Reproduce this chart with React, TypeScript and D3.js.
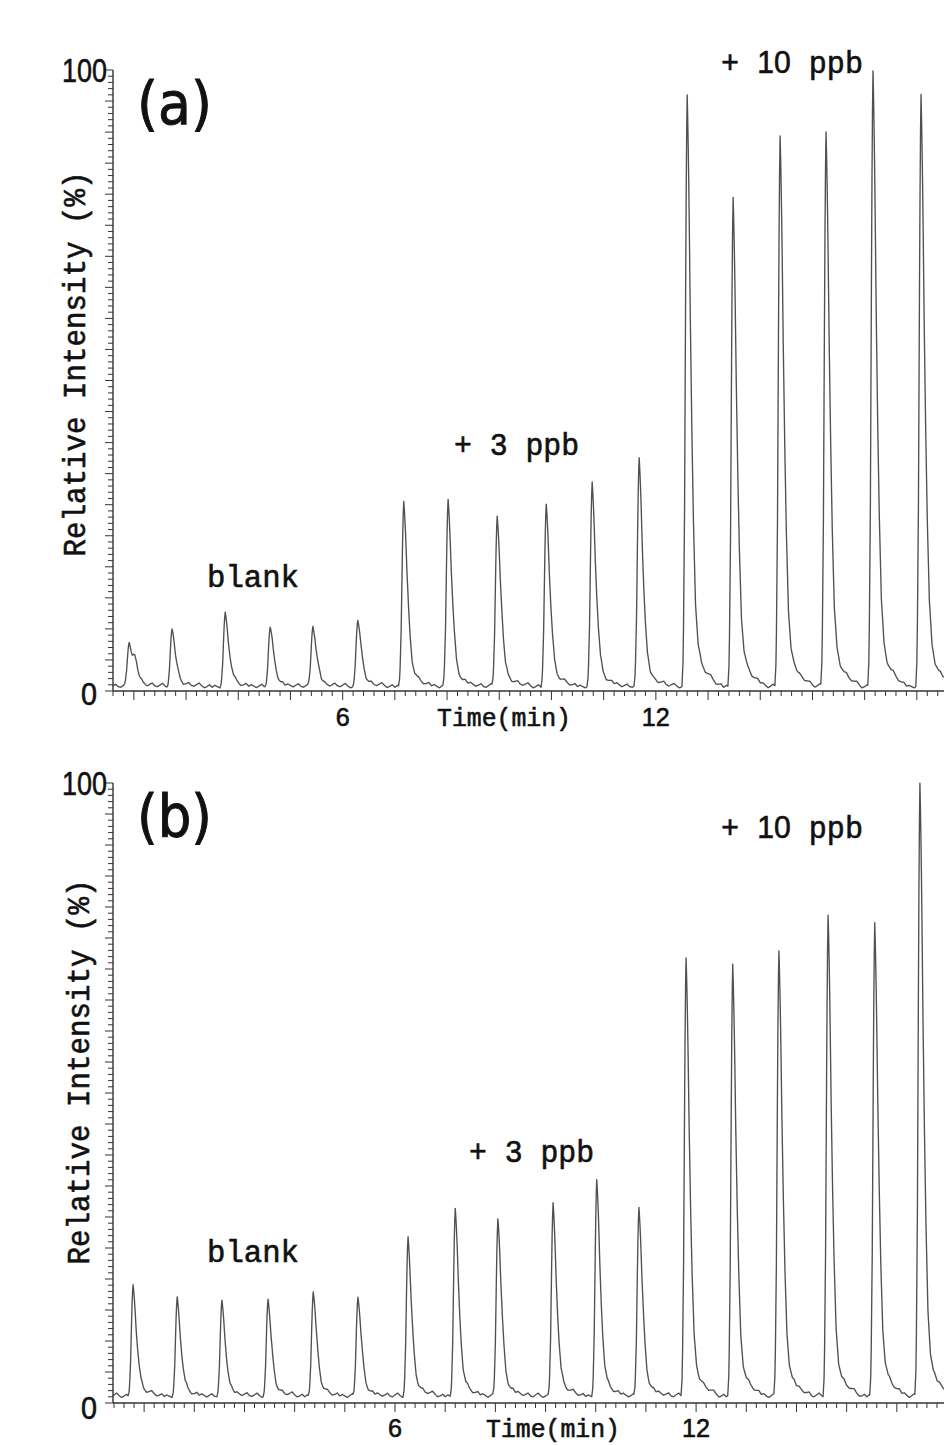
import React from 'react';
import * as d3 from 'd3';

const W = 944;
const H = 1445;

// Normalised peak shape (minutes from apex, fraction of apex)
const profileDt = [-0.1, -0.075, -0.05, -0.03, -0.015, 0, 0.015, 0.035, 0.06, 0.09, 0.12, 0.16, 0.21, 0.27, 0.35, 0.45, 0.56, 0.68];
const profileF = [0, 0.05, 0.3, 0.66, 0.9, 1, 0.94, 0.82, 0.62, 0.43, 0.28, 0.14, 0.07, 0.04, 0.025, 0.015, 0.006, 0];

// Baseline noise (%), every 0.05 min, repeating
const baselineNoise = [0.2, 0.5, 0.3, 0.1, 0.4, 0.7, 0.3, 0.2, 0.5, 0.8, 0.4, 0.1, 0.3, 0.6];

// Panel (a)
const peakTimesA = [1.91, 2.73, 3.75, 4.61, 5.43, 6.29, 7.17, 8.02, 8.96, 9.9, 10.78, 11.68, 12.6, 13.48, 14.38, 15.26, 16.16, 17.08];
const peakTopsA = [7.5, 9.5, 12.0, 9.7, 10.2, 11.1, 30.3, 30.6, 28.0, 29.8, 33.2, 37.0, 95.8, 79.2, 89.0, 89.9, 99.4, 95.6];
const shoulderTimesA = [2.02];
const shoulderTopsA = [2.6];
const baseA = 0.4;
const xDomainA = [1.6, 17.52];

// Panel (b)
const peakTimesB = [0.78, 1.66, 2.55, 3.47, 4.37, 5.26, 6.26, 7.2, 8.05, 9.15, 10.02, 10.86, 11.8, 12.73, 13.65, 14.63, 15.56, 16.46];
const peakTopsB = [18.7, 16.5, 15.8, 16.3, 17.7, 16.8, 26.3, 31.0, 29.5, 31.8, 35.5, 31.3, 71.5, 70.6, 72.7, 78.2, 77.3, 99.7];
const shoulderTimesB: number[] = [];
const shoulderTopsB: number[] = [];
const baseB = 0.8;
const xDomainB = [0.38, 16.94];

const yTickValues = d3.range(0, 101, 1);
const yTickLabels = ['0', '100'];
const xTickLabels = ['6', '12'];

function profile(dt: number): number {
  const n = profileDt.length;
  if (dt <= profileDt[0] || dt >= profileDt[n - 1]) return 0;
  let i = 0;
  while (profileDt[i + 1] < dt) i++;
  const a = profileDt[i], b = profileDt[i + 1];
  const f = (dt - a) / (b - a);
  return profileF[i] + (profileF[i + 1] - profileF[i]) * f;
}

function noise(t: number): number {
  const k = t / 0.05;
  const i = Math.floor(k);
  const f = k - i;
  const n = baselineNoise.length;
  const a = baselineNoise[((i % n) + n) % n];
  const b = baselineNoise[(((i + 1) % n) + n) % n];
  return a + (b - a) * f;
}

function buildTrace(domain: number[], times: number[], tops: number[], sTimes: number[], sTops: number[], base: number) {
  const pts: [number, number][] = [];
  const k0 = Math.ceil(domain[0] * 100);
  const k1 = Math.floor(domain[1] * 100);
  for (let k = k0; k <= k1; k++) {
    const t = k / 100;
    const y = base + noise(t);
    let peakSum = 0;
    times.forEach((pt, i) => {
      peakSum += (tops[i] - base) * profile(t - pt);
    });
    sTimes.forEach((st, i) => {
      peakSum += sTops[i] * profile(t - st);
    });
    pts.push([t, y + peakSum]);
  }
  return pts;
}

type PanelProps = {
  top: number;
  bottom: number;
  domain: number[];
  times: number[];
  tops: number[];
  sTimes: number[];
  sTops: number[];
  base: number;
  letter: string;
  letterBaseline: number;
  yLabelX: number;
  yLabelCenter: number;
  label100Baseline: number;
  label0Baseline: number;
  xLabelBaseline: number;
  timeLabelX: number;
  blank: [number, number];
  plus3: [number, number];
  plus10: [number, number];
};

const AXIS = '#333';
const TRACE = '#505050';
const INK = '#111';

function Panel(p: PanelProps) {
  const x = d3.scaleLinear().domain(p.domain).range([113, 944]);
  const y = d3.scaleLinear().domain([0, 100]).range([p.bottom, p.top]);
  const trace = buildTrace(p.domain, p.times, p.tops, p.sTimes, p.sTops, p.base);
  const line = d3.line<[number, number]>().x(d => x(d[0])).y(d => y(d[1]));
  const xTicks: { t: number; major: boolean }[] = [];
  for (let k = Math.ceil(p.domain[0] * 5 - 1e-6); k <= Math.floor(p.domain[1] * 5 + 1e-6); k++) {
    xTicks.push({ t: k / 5, major: k % 5 === 0 });
  }
  const mono = '"Liberation Mono", "DejaVu Sans Mono", monospace';
  const sans = '"Liberation Sans", Arial, sans-serif';
  const bold = { stroke: INK, strokeWidth: 0.6, fill: INK } as const;
  return (
    <g>
      <path d={line(trace) || ''} fill="none" stroke={TRACE} strokeWidth={1.35} strokeLinejoin="round" />
      {/* y axis */}
      <line x1={x(p.domain[0])} x2={x(p.domain[0])} y1={y(100)} y2={y(0)} stroke={AXIS} strokeWidth={1.4} />
      {yTickValues.map(v => (
        <line key={v} x1={x(p.domain[0])} x2={x(p.domain[0]) - (v % 5 === 0 ? 8 : 5)} y1={y(v)} y2={y(v)} stroke={AXIS} strokeWidth={1} />
      ))}
      {/* x axis */}
      <line x1={x(p.domain[0])} x2={944} y1={y(0)} y2={y(0)} stroke={AXIS} strokeWidth={1.4} />
      {xTicks.map(tk => (
        <line key={tk.t} x1={x(tk.t)} x2={x(tk.t)} y1={y(0)} y2={y(0) + (tk.major ? 9 : 5)} stroke={AXIS} strokeWidth={1} />
      ))}
      {/* y tick labels */}
      <text x={107} y={p.label100Baseline} fontFamily={sans} fontSize={34} textAnchor="end" textLength={45} lengthAdjust="spacingAndGlyphs" {...bold}>{yTickLabels[1]}</text>
      <text x={97} y={p.label0Baseline} fontFamily={sans} fontSize={31} textAnchor="end" textLength={16} lengthAdjust="spacingAndGlyphs" {...bold}>{yTickLabels[0]}</text>
      {/* x tick labels */}
      {xTickLabels.map(s => (
        <text key={s} x={x(+s)} y={p.xLabelBaseline} fontFamily={sans} fontSize={26} textAnchor="middle" textLength={s.length * 14} lengthAdjust="spacingAndGlyphs" {...bold}>{s}</text>
      ))}
      <text x={p.timeLabelX} y={p.xLabelBaseline} fontFamily={mono} fontSize={25} textLength={134} lengthAdjust="spacingAndGlyphs" {...bold}>Time(min)</text>
      {/* y axis title */}
      <text transform={`translate(${p.yLabelX},${p.yLabelCenter}) rotate(-90)`} fontFamily={mono} fontSize={31} textAnchor="middle" textLength={385} lengthAdjust="spacingAndGlyphs" {...bold}>Relative Intensity (%)</text>
      {/* panel letter */}
      <text x={137} y={p.letterBaseline} fontFamily='"DejaVu Sans", sans-serif' fontSize={58} textLength={75} lengthAdjust="spacingAndGlyphs" stroke={INK} strokeWidth={1} fill={INK}>{p.letter}</text>
      {/* annotations */}
      <text x={p.blank[0]} y={p.blank[1]} fontFamily={mono} fontSize={31} textLength={92} lengthAdjust="spacingAndGlyphs" {...bold}>blank</text>
      <text x={p.plus3[0]} y={p.plus3[1]} fontFamily={mono} fontSize={31} textLength={125} lengthAdjust="spacingAndGlyphs" {...bold}>+ 3 ppb</text>
      <text x={p.plus10[0]} y={p.plus10[1]} fontFamily={mono} fontSize={31} textLength={142} lengthAdjust="spacingAndGlyphs" {...bold}>+ <tspan fontFamily={sans}>10</tspan> ppb</text>
    </g>
  );
}

export default function App() {
  return (
    <svg width={W} height={H} viewBox={`0 0 ${W} ${H}`} style={{ display: 'block', position: 'absolute', left: 0, top: 0, background: '#fff' }}>
      <rect x={0} y={0} width={W} height={H} fill="#fff" />
      <Panel
        top={70} bottom={691} domain={xDomainA}
        times={peakTimesA} tops={peakTopsA} sTimes={shoulderTimesA} sTops={shoulderTopsA} base={baseA}
        letter="(a)" letterBaseline={124}
        yLabelX={85} yLabelCenter={364}
        label100Baseline={82} label0Baseline={705}
        xLabelBaseline={726} timeLabelX={437}
        blank={[207, 587]} plus3={[454, 455]} plus10={[721, 73]}
      />
      <Panel
        top={783} bottom={1403} domain={xDomainB}
        times={peakTimesB} tops={peakTopsB} sTimes={shoulderTimesB} sTops={shoulderTopsB} base={baseB}
        letter="(b)" letterBaseline={837}
        yLabelX={89} yLabelCenter={1072}
        label100Baseline={795} label0Baseline={1419}
        xLabelBaseline={1437} timeLabelX={486}
        blank={[207, 1262]} plus3={[469, 1162]} plus10={[721, 838]}
      />
    </svg>
  );
}
